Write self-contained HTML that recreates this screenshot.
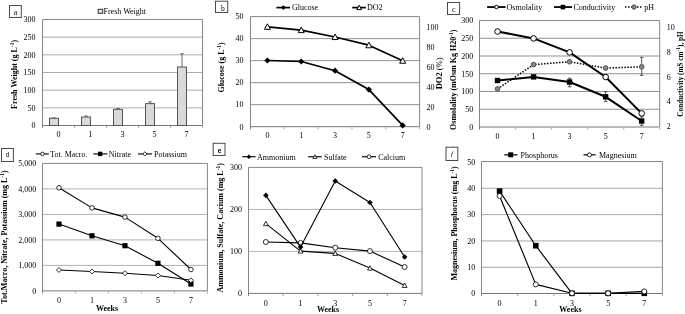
<!DOCTYPE html><html><head><meta charset="utf-8"><style>html,body{margin:0;padding:0;background:#fff;}svg{display:block;will-change:transform;}text{font-family:"Liberation Serif",serif;fill:#000;}</style></head><body>
<svg width="685" height="314" viewBox="0 0 685 314">
<rect width="685" height="314" fill="#fff"/>
<line x1="42.5" y1="107.83" x2="202.5" y2="107.83" stroke="#acacac" stroke-width="1" />
<line x1="42.5" y1="90.17" x2="202.5" y2="90.17" stroke="#acacac" stroke-width="1" />
<line x1="42.5" y1="72.5" x2="202.5" y2="72.5" stroke="#acacac" stroke-width="1" />
<line x1="42.5" y1="54.83" x2="202.5" y2="54.83" stroke="#acacac" stroke-width="1" />
<line x1="42.5" y1="37.17" x2="202.5" y2="37.17" stroke="#acacac" stroke-width="1" />
<line x1="42.5" y1="19.5" x2="202.5" y2="19.5" stroke="#868686" stroke-width="1" />
<line x1="202.5" y1="19.5" x2="202.5" y2="125.5" stroke="#868686" stroke-width="1" />
<line x1="42.5" y1="19.5" x2="42.5" y2="128.1" stroke="#868686" stroke-width="1" />
<line x1="42.5" y1="125.5" x2="202.5" y2="125.5" stroke="#787878" stroke-width="1" />
<line x1="74.5" y1="126" x2="74.5" y2="128.1" stroke="#b0b0b0" stroke-width="1.2" />
<line x1="106.5" y1="126" x2="106.5" y2="128.1" stroke="#b0b0b0" stroke-width="1.2" />
<line x1="138.5" y1="126" x2="138.5" y2="128.1" stroke="#b0b0b0" stroke-width="1.2" />
<line x1="170.5" y1="126" x2="170.5" y2="128.1" stroke="#b0b0b0" stroke-width="1.2" />
<line x1="202.5" y1="126" x2="202.5" y2="128.1" stroke="#b0b0b0" stroke-width="1.2" />
<text x="35.6" y="128.3" text-anchor="end" font-size="8" font-weight="normal" >0</text>
<text x="35.6" y="110.63" text-anchor="end" font-size="8" font-weight="normal" >50</text>
<text x="35.6" y="92.97" text-anchor="end" font-size="8" font-weight="normal" >100</text>
<text x="35.6" y="75.3" text-anchor="end" font-size="8" font-weight="normal" >150</text>
<text x="35.6" y="57.63" text-anchor="end" font-size="8" font-weight="normal" >200</text>
<text x="35.6" y="39.97" text-anchor="end" font-size="8" font-weight="normal" >250</text>
<text x="35.6" y="22.3" text-anchor="end" font-size="8" font-weight="normal" >300</text>
<text x="58.5" y="137.1" text-anchor="middle" font-size="8" font-weight="normal" >0</text>
<text x="90.5" y="137.1" text-anchor="middle" font-size="8" font-weight="normal" >1</text>
<text x="122.5" y="137.1" text-anchor="middle" font-size="8" font-weight="normal" >3</text>
<text x="154.5" y="137.1" text-anchor="middle" font-size="8" font-weight="normal" >5</text>
<text x="186.5" y="137.1" text-anchor="middle" font-size="8" font-weight="normal" >7</text>
<rect x="49.5" y="118.26" width="9" height="7.24" fill="#d9d9d9" stroke="#555" stroke-width="1"/>
<line x1="54" y1="117.9" x2="54" y2="118.26" stroke="#5a5a5a" stroke-width="0.9" />
<line x1="52.2" y1="117.9" x2="55.8" y2="117.9" stroke="#5a5a5a" stroke-width="0.9" />
<rect x="81.5" y="117.02" width="9" height="8.48" fill="#d9d9d9" stroke="#555" stroke-width="1"/>
<line x1="86" y1="115.96" x2="86" y2="117.02" stroke="#5a5a5a" stroke-width="0.9" />
<line x1="84.2" y1="115.96" x2="87.8" y2="115.96" stroke="#5a5a5a" stroke-width="0.9" />
<rect x="113.5" y="109.39" width="9" height="16.11" fill="#d9d9d9" stroke="#555" stroke-width="1"/>
<line x1="118" y1="108.54" x2="118" y2="109.39" stroke="#5a5a5a" stroke-width="0.9" />
<line x1="116.2" y1="108.54" x2="119.8" y2="108.54" stroke="#5a5a5a" stroke-width="0.9" />
<rect x="145.5" y="103.59" width="9" height="21.91" fill="#d9d9d9" stroke="#555" stroke-width="1"/>
<line x1="150" y1="101.83" x2="150" y2="103.59" stroke="#5a5a5a" stroke-width="0.9" />
<line x1="148.2" y1="101.83" x2="151.8" y2="101.83" stroke="#5a5a5a" stroke-width="0.9" />
<rect x="177.5" y="66.99" width="9" height="58.51" fill="#d9d9d9" stroke="#555" stroke-width="1"/>
<line x1="182" y1="53.77" x2="182" y2="66.99" stroke="#5a5a5a" stroke-width="0.9" />
<line x1="180.2" y1="53.77" x2="183.8" y2="53.77" stroke="#5a5a5a" stroke-width="0.9" />
<rect x="9.5" y="5.5" width="11.8" height="12" fill="#fff" stroke="#4a4a4a" stroke-width="1"/>
<text x="15.6" y="14.9" text-anchor="middle" font-size="8" font-weight="normal" >a</text>
<rect x="98.2" y="9.3" width="4.5" height="4" fill="#e6e6e6" stroke="#333" stroke-width="1"/>
<text x="103.5" y="13.6" text-anchor="start" font-size="8" font-weight="normal" >Fresh Weight</text>
<text transform="translate(16.9,74.4) rotate(-90)" text-anchor="middle" font-size="8" font-weight="bold">Fresh Weight (g L<tspan dy="-3" font-size="5.5">-1</tspan><tspan dy="3">)</tspan></text>
<line x1="250.5" y1="104.68" x2="419.6" y2="104.68" stroke="#929292" stroke-width="1" />
<line x1="250.5" y1="82.66" x2="419.6" y2="82.66" stroke="#929292" stroke-width="1" />
<line x1="250.5" y1="60.64" x2="419.6" y2="60.64" stroke="#929292" stroke-width="1" />
<line x1="250.5" y1="38.62" x2="419.6" y2="38.62" stroke="#929292" stroke-width="1" />
<line x1="250.5" y1="16.6" x2="419.6" y2="16.6" stroke="#868686" stroke-width="1" />
<line x1="419.6" y1="16.6" x2="419.6" y2="126.7" stroke="#868686" stroke-width="1" />
<line x1="250.5" y1="16.6" x2="250.5" y2="129.3" stroke="#868686" stroke-width="1" />
<line x1="250.5" y1="126.7" x2="419.6" y2="126.7" stroke="#787878" stroke-width="1" />
<line x1="284.32" y1="127.2" x2="284.32" y2="129.3" stroke="#b0b0b0" stroke-width="1.2" />
<line x1="318.14" y1="127.2" x2="318.14" y2="129.3" stroke="#b0b0b0" stroke-width="1.2" />
<line x1="351.96" y1="127.2" x2="351.96" y2="129.3" stroke="#b0b0b0" stroke-width="1.2" />
<line x1="385.78" y1="127.2" x2="385.78" y2="129.3" stroke="#b0b0b0" stroke-width="1.2" />
<line x1="419.6" y1="127.2" x2="419.6" y2="129.3" stroke="#b0b0b0" stroke-width="1.2" />
<text x="243.6" y="129.5" text-anchor="end" font-size="8" font-weight="normal" >0</text>
<text x="243.6" y="107.48" text-anchor="end" font-size="8" font-weight="normal" >10</text>
<text x="243.6" y="85.46" text-anchor="end" font-size="8" font-weight="normal" >20</text>
<text x="243.6" y="63.44" text-anchor="end" font-size="8" font-weight="normal" >30</text>
<text x="243.6" y="41.42" text-anchor="end" font-size="8" font-weight="normal" >40</text>
<text x="243.6" y="19.4" text-anchor="end" font-size="8" font-weight="normal" >50</text>
<text x="267.41" y="138.4" text-anchor="middle" font-size="8" font-weight="normal" >0</text>
<text x="301.23" y="138.4" text-anchor="middle" font-size="8" font-weight="normal" >1</text>
<text x="335.05" y="138.4" text-anchor="middle" font-size="8" font-weight="normal" >3</text>
<text x="368.87" y="138.4" text-anchor="middle" font-size="8" font-weight="normal" >5</text>
<text x="402.69" y="138.4" text-anchor="middle" font-size="8" font-weight="normal" >7</text>
<text x="426.5" y="129.5" text-anchor="start" font-size="8" font-weight="normal" >0</text>
<text x="426.5" y="109.5" text-anchor="start" font-size="8" font-weight="normal" >20</text>
<text x="426.5" y="89.5" text-anchor="start" font-size="8" font-weight="normal" >40</text>
<text x="426.5" y="69.5" text-anchor="start" font-size="8" font-weight="normal" >60</text>
<text x="426.5" y="49.5" text-anchor="start" font-size="8" font-weight="normal" >80</text>
<text x="426.5" y="29.5" text-anchor="start" font-size="8" font-weight="normal" >100</text>
<path d="M267.41 26.8L301.23 30.1L335.05 37L368.87 45.2L402.69 60.7" fill="none" stroke="#000" stroke-width="1.7" stroke-linejoin="round"/>
<path d="M267.41 23.8L270.41 29.35L264.41 29.35Z" fill="#fff" stroke="#000" stroke-width="1"/>
<path d="M301.23 27.1L304.23 32.65L298.23 32.65Z" fill="#fff" stroke="#000" stroke-width="1"/>
<path d="M335.05 34L338.05 39.55L332.05 39.55Z" fill="#fff" stroke="#000" stroke-width="1"/>
<path d="M368.87 42.2L371.87 47.75L365.87 47.75Z" fill="#fff" stroke="#000" stroke-width="1"/>
<path d="M402.69 57.7L405.69 63.25L399.69 63.25Z" fill="#fff" stroke="#000" stroke-width="1"/>
<path d="M267.41 60.5L301.23 61.5L335.05 70.7L368.87 89.6L402.69 125.4" fill="none" stroke="#000" stroke-width="1.7" stroke-linejoin="round"/>
<path d="M267.41 57.4L270.51 60.5L267.41 63.6L264.31 60.5Z" fill="#000"/>
<path d="M301.23 58.4L304.33 61.5L301.23 64.6L298.13 61.5Z" fill="#000"/>
<path d="M335.05 67.6L338.15 70.7L335.05 73.8L331.95 70.7Z" fill="#000"/>
<path d="M368.87 86.5L371.97 89.6L368.87 92.7L365.77 89.6Z" fill="#000"/>
<path d="M402.69 122.3L405.79 125.4L402.69 128.5L399.59 125.4Z" fill="#000"/>
<rect x="215.5" y="1.2" width="12.2" height="11.3" fill="#fff" stroke="#4a4a4a" stroke-width="1"/>
<text x="222.9" y="10.9" text-anchor="middle" font-size="7.5" font-weight="normal" >b</text>
<line x1="276.4" y1="7.6" x2="290" y2="7.6" stroke="#000" stroke-width="1.7"/>
<path d="M283.4 5.2L285.8 7.6L283.4 10L281 7.6Z" fill="#000"/>
<text x="291.9" y="10.1" text-anchor="start" font-size="8" font-weight="normal" >Glucose</text>
<line x1="352.2" y1="7.6" x2="365.8" y2="7.6" stroke="#000" stroke-width="1.7"/>
<path d="M359.2 5.2L361.6 9.64L356.8 9.64Z" fill="#fff" stroke="#000" stroke-width="1"/>
<text x="367" y="10.1" text-anchor="start" font-size="8" font-weight="normal" >DO2</text>
<text transform="translate(223.7,67.4) rotate(-90)" text-anchor="middle" font-size="8" font-weight="bold">Glucose (g L<tspan dy="-3" font-size="5.5">-1</tspan><tspan dy="3">)</tspan></text>
<text transform="translate(442.2,73.4) rotate(-90)" text-anchor="middle" font-size="8.5"><tspan font-weight="bold">DO2</tspan> (%)</text>
<line x1="479.5" y1="109.25" x2="659.7" y2="109.25" stroke="#929292" stroke-width="1" />
<line x1="479.5" y1="91.5" x2="659.7" y2="91.5" stroke="#929292" stroke-width="1" />
<line x1="479.5" y1="73.75" x2="659.7" y2="73.75" stroke="#929292" stroke-width="1" />
<line x1="479.5" y1="56" x2="659.7" y2="56" stroke="#929292" stroke-width="1" />
<line x1="479.5" y1="38.25" x2="659.7" y2="38.25" stroke="#929292" stroke-width="1" />
<line x1="479.5" y1="20.5" x2="659.7" y2="20.5" stroke="#868686" stroke-width="1" />
<line x1="659.7" y1="20.5" x2="659.7" y2="127" stroke="#868686" stroke-width="1" />
<line x1="479.5" y1="20.5" x2="479.5" y2="129.6" stroke="#868686" stroke-width="1" />
<line x1="479.5" y1="127" x2="659.7" y2="127" stroke="#787878" stroke-width="1" />
<line x1="515.54" y1="127.5" x2="515.54" y2="129.6" stroke="#b0b0b0" stroke-width="1.2" />
<line x1="551.58" y1="127.5" x2="551.58" y2="129.6" stroke="#b0b0b0" stroke-width="1.2" />
<line x1="587.62" y1="127.5" x2="587.62" y2="129.6" stroke="#b0b0b0" stroke-width="1.2" />
<line x1="623.66" y1="127.5" x2="623.66" y2="129.6" stroke="#b0b0b0" stroke-width="1.2" />
<line x1="659.7" y1="127.5" x2="659.7" y2="129.6" stroke="#b0b0b0" stroke-width="1.2" />
<text x="473.2" y="129.8" text-anchor="end" font-size="8" font-weight="normal" >0</text>
<text x="473.2" y="112.05" text-anchor="end" font-size="8" font-weight="normal" >50</text>
<text x="473.2" y="94.3" text-anchor="end" font-size="8" font-weight="normal" >100</text>
<text x="473.2" y="76.55" text-anchor="end" font-size="8" font-weight="normal" >150</text>
<text x="473.2" y="58.8" text-anchor="end" font-size="8" font-weight="normal" >200</text>
<text x="473.2" y="41.05" text-anchor="end" font-size="8" font-weight="normal" >250</text>
<text x="473.2" y="23.3" text-anchor="end" font-size="8" font-weight="normal" >300</text>
<text x="497.52" y="138.6" text-anchor="middle" font-size="8" font-weight="normal" >0</text>
<text x="533.56" y="138.6" text-anchor="middle" font-size="8" font-weight="normal" >1</text>
<text x="569.6" y="138.6" text-anchor="middle" font-size="8" font-weight="normal" >3</text>
<text x="605.64" y="138.6" text-anchor="middle" font-size="8" font-weight="normal" >5</text>
<text x="641.68" y="138.6" text-anchor="middle" font-size="8" font-weight="normal" >7</text>
<text x="666.8" y="129.4" text-anchor="start" font-size="8" font-weight="normal" >2</text>
<text x="666.8" y="104.3" text-anchor="start" font-size="8" font-weight="normal" >4</text>
<text x="666.8" y="79.8" text-anchor="start" font-size="8" font-weight="normal" >6</text>
<text x="666.8" y="55.2" text-anchor="start" font-size="8" font-weight="normal" >8</text>
<text x="666.8" y="30" text-anchor="start" font-size="8" font-weight="normal" >10</text>
<line x1="569.6" y1="78.2" x2="569.6" y2="86.8" stroke="#444" stroke-width="0.9" />
<line x1="567.8" y1="78.2" x2="571.4" y2="78.2" stroke="#444" stroke-width="0.9" />
<line x1="567.8" y1="86.8" x2="571.4" y2="86.8" stroke="#444" stroke-width="0.9" />
<line x1="605.64" y1="91.7" x2="605.64" y2="101.6" stroke="#444" stroke-width="0.9" />
<line x1="603.84" y1="91.7" x2="607.44" y2="91.7" stroke="#444" stroke-width="0.9" />
<line x1="603.84" y1="101.6" x2="607.44" y2="101.6" stroke="#444" stroke-width="0.9" />
<line x1="641.68" y1="116.7" x2="641.68" y2="125.4" stroke="#444" stroke-width="0.9" />
<line x1="639.88" y1="116.7" x2="643.48" y2="116.7" stroke="#444" stroke-width="0.9" />
<line x1="639.88" y1="125.4" x2="643.48" y2="125.4" stroke="#444" stroke-width="0.9" />
<line x1="641.68" y1="57.4" x2="641.68" y2="75.3" stroke="#444" stroke-width="0.9" />
<line x1="639.88" y1="57.4" x2="643.48" y2="57.4" stroke="#444" stroke-width="0.9" />
<line x1="639.88" y1="75.3" x2="643.48" y2="75.3" stroke="#444" stroke-width="0.9" />
<line x1="497.52" y1="78.8" x2="497.52" y2="82.2" stroke="#444" stroke-width="0.9" />
<line x1="495.72" y1="78.8" x2="499.32" y2="78.8" stroke="#444" stroke-width="0.9" />
<line x1="495.72" y1="82.2" x2="499.32" y2="82.2" stroke="#444" stroke-width="0.9" />
<line x1="533.56" y1="75.3" x2="533.56" y2="78.5" stroke="#444" stroke-width="0.9" />
<line x1="531.76" y1="75.3" x2="535.36" y2="75.3" stroke="#444" stroke-width="0.9" />
<line x1="531.76" y1="78.5" x2="535.36" y2="78.5" stroke="#444" stroke-width="0.9" />
<path d="M497.52 88.9L533.56 64.6L569.6 61.8L605.64 68.1L641.68 66.8" fill="none" stroke="#000" stroke-width="1.5" stroke-linejoin="round" stroke-dasharray="1.5 1.5"/>
<circle cx="497.52" cy="88.9" r="2.3" fill="#888" stroke="#505050" stroke-width="1"/>
<circle cx="533.56" cy="64.6" r="2.3" fill="#888" stroke="#505050" stroke-width="1"/>
<circle cx="569.6" cy="61.8" r="2.3" fill="#888" stroke="#505050" stroke-width="1"/>
<circle cx="605.64" cy="68.1" r="2.3" fill="#888" stroke="#505050" stroke-width="1"/>
<circle cx="641.68" cy="66.8" r="2.3" fill="#888" stroke="#505050" stroke-width="1"/>
<path d="M497.52 31.5L533.56 38.4L569.6 52.4L605.64 77L641.68 113.4" fill="none" stroke="#000" stroke-width="2" stroke-linejoin="round"/>
<circle cx="497.52" cy="31.5" r="2.8" fill="#fff" stroke="#000" stroke-width="1"/>
<circle cx="533.56" cy="38.4" r="2.8" fill="#fff" stroke="#000" stroke-width="1"/>
<circle cx="569.6" cy="52.4" r="2.8" fill="#fff" stroke="#000" stroke-width="1"/>
<circle cx="605.64" cy="77" r="2.8" fill="#fff" stroke="#000" stroke-width="1"/>
<circle cx="641.68" cy="113.4" r="2.8" fill="#fff" stroke="#000" stroke-width="1"/>
<path d="M497.52 80.5L533.56 76.9L569.6 82L605.64 96.8L641.68 121" fill="none" stroke="#000" stroke-width="2" stroke-linejoin="round"/>
<rect x="494.82" y="77.8" width="5.4" height="5.4" fill="#000"/>
<rect x="530.86" y="74.2" width="5.4" height="5.4" fill="#000"/>
<rect x="566.9" y="79.3" width="5.4" height="5.4" fill="#000"/>
<rect x="602.94" y="94.1" width="5.4" height="5.4" fill="#000"/>
<rect x="638.98" y="118.3" width="5.4" height="5.4" fill="#000"/>
<rect x="447.5" y="2.5" width="12.1" height="12" fill="#fff" stroke="#4a4a4a" stroke-width="1"/>
<text x="453.8" y="11.9" text-anchor="middle" font-size="8" font-weight="normal" >c</text>
<line x1="487.1" y1="7.05" x2="505.5" y2="7.05" stroke="#000" stroke-width="1.8"/>
<circle cx="496.5" cy="7.05" r="1.8" fill="#fff" stroke="#000" stroke-width="1"/>
<text x="506.6" y="9.8" text-anchor="start" font-size="8" font-weight="normal" >Osmolality</text>
<line x1="554" y1="7.05" x2="572" y2="7.05" stroke="#000" stroke-width="1.8"/>
<rect x="560.6" y="4.75" width="4.6" height="4.6" fill="#000"/>
<text x="573.4" y="9.8" text-anchor="start" font-size="8" font-weight="normal" >Conductivity</text>
<line x1="625" y1="7.05" x2="643" y2="7.05" stroke="#000" stroke-width="1.5" stroke-dasharray="1.5 1.5"/>
<circle cx="634" cy="7.05" r="2.2" fill="#888" stroke="#505050" stroke-width="1"/>
<text x="644.3" y="9.8" text-anchor="start" font-size="8" font-weight="normal" >pH</text>
<text transform="translate(456.2,79.7) rotate(-90)" text-anchor="middle" font-size="8" font-weight="bold">Osmolality (mOsm Kg H20<tspan dy="-3" font-size="5.5">-1</tspan><tspan dy="3">)</tspan></text>
<text transform="translate(683.4,74.0) rotate(-90)" text-anchor="middle" font-size="7.2" font-weight="bold">Conductivity (mS cm<tspan dy="-3" font-size="5.5">-1</tspan><tspan dy="3">), pH</tspan></text>
<line x1="42.5" y1="265.4" x2="207.4" y2="265.4" stroke="#b2b2b2" stroke-width="1" />
<line x1="42.5" y1="239.9" x2="207.4" y2="239.9" stroke="#b2b2b2" stroke-width="1" />
<line x1="42.5" y1="214.4" x2="207.4" y2="214.4" stroke="#b2b2b2" stroke-width="1" />
<line x1="42.5" y1="188.9" x2="207.4" y2="188.9" stroke="#b2b2b2" stroke-width="1" />
<line x1="42.5" y1="163.4" x2="207.4" y2="163.4" stroke="#868686" stroke-width="1" />
<line x1="207.4" y1="163.4" x2="207.4" y2="290.9" stroke="#868686" stroke-width="1" />
<line x1="42.5" y1="163.4" x2="42.5" y2="293.5" stroke="#868686" stroke-width="1" />
<line x1="42.5" y1="290.9" x2="207.4" y2="290.9" stroke="#787878" stroke-width="1" />
<line x1="75.48" y1="291.4" x2="75.48" y2="293.5" stroke="#b0b0b0" stroke-width="1.2" />
<line x1="108.46" y1="291.4" x2="108.46" y2="293.5" stroke="#b0b0b0" stroke-width="1.2" />
<line x1="141.44" y1="291.4" x2="141.44" y2="293.5" stroke="#b0b0b0" stroke-width="1.2" />
<line x1="174.42" y1="291.4" x2="174.42" y2="293.5" stroke="#b0b0b0" stroke-width="1.2" />
<line x1="207.4" y1="291.4" x2="207.4" y2="293.5" stroke="#b0b0b0" stroke-width="1.2" />
<text x="36.2" y="293.7" text-anchor="end" font-size="8" font-weight="normal" >0</text>
<text x="36.2" y="268.2" text-anchor="end" font-size="8" font-weight="normal" >1,000</text>
<text x="36.2" y="242.7" text-anchor="end" font-size="8" font-weight="normal" >2,000</text>
<text x="36.2" y="217.2" text-anchor="end" font-size="8" font-weight="normal" >3,000</text>
<text x="36.2" y="191.7" text-anchor="end" font-size="8" font-weight="normal" >4,000</text>
<text x="36.2" y="166.2" text-anchor="end" font-size="8" font-weight="normal" >5,000</text>
<text x="58.99" y="302.6" text-anchor="middle" font-size="8" font-weight="normal" >0</text>
<text x="91.97" y="302.6" text-anchor="middle" font-size="8" font-weight="normal" >1</text>
<text x="124.95" y="302.6" text-anchor="middle" font-size="8" font-weight="normal" >3</text>
<text x="157.93" y="302.6" text-anchor="middle" font-size="8" font-weight="normal" >5</text>
<text x="190.91" y="302.6" text-anchor="middle" font-size="8" font-weight="normal" >7</text>
<path d="M58.99 187.8L91.97 207.9L124.95 217.1L157.93 238.3L190.91 269.5" fill="none" stroke="#000" stroke-width="1.1" stroke-linejoin="round"/>
<circle cx="58.99" cy="187.8" r="2.3" fill="#fff" stroke="#000" stroke-width="0.8"/>
<circle cx="91.97" cy="207.9" r="2.3" fill="#fff" stroke="#000" stroke-width="0.8"/>
<circle cx="124.95" cy="217.1" r="2.3" fill="#fff" stroke="#000" stroke-width="0.8"/>
<circle cx="157.93" cy="238.3" r="2.3" fill="#fff" stroke="#000" stroke-width="0.8"/>
<circle cx="190.91" cy="269.5" r="2.3" fill="#fff" stroke="#000" stroke-width="0.8"/>
<path d="M58.99 224.1L91.97 235.8L124.95 245.7L157.93 263.3L190.91 284" fill="none" stroke="#000" stroke-width="1.1" stroke-linejoin="round"/>
<rect x="56.39" y="221.5" width="5.2" height="5.2" fill="#000"/>
<rect x="89.37" y="233.2" width="5.2" height="5.2" fill="#000"/>
<rect x="122.35" y="243.1" width="5.2" height="5.2" fill="#000"/>
<rect x="155.33" y="260.7" width="5.2" height="5.2" fill="#000"/>
<rect x="188.31" y="281.4" width="5.2" height="5.2" fill="#000"/>
<path d="M58.99 270L91.97 271.5L124.95 273.2L157.93 275.5L190.91 280.3" fill="none" stroke="#000" stroke-width="1.1" stroke-linejoin="round"/>
<path d="M58.99 267.5L61.49 270L58.99 272.5L56.49 270Z" fill="#fff" stroke="#000" stroke-width="0.8"/>
<path d="M91.97 269L94.47 271.5L91.97 274L89.47 271.5Z" fill="#fff" stroke="#000" stroke-width="0.8"/>
<path d="M124.95 270.7L127.45 273.2L124.95 275.7L122.45 273.2Z" fill="#fff" stroke="#000" stroke-width="0.8"/>
<path d="M157.93 273L160.43 275.5L157.93 278L155.43 275.5Z" fill="#fff" stroke="#000" stroke-width="0.8"/>
<path d="M190.91 277.8L193.41 280.3L190.91 282.8L188.41 280.3Z" fill="#fff" stroke="#000" stroke-width="0.8"/>
<rect x="1.5" y="148.5" width="11.9" height="13" fill="#fff" stroke="#4a4a4a" stroke-width="1"/>
<text x="7.6" y="157.4" text-anchor="middle" font-size="6.5" font-weight="normal" style="font-family:'Liberation Sans',sans-serif">d</text>
<line x1="35.9" y1="153.9" x2="48.9" y2="153.9" stroke="#333" stroke-width="1.4"/>
<circle cx="42.5" cy="153.9" r="1.8" fill="#fff" stroke="#000" stroke-width="0.8"/>
<text x="50.1" y="156.5" text-anchor="start" font-size="8" font-weight="normal" >Tot. Macro.</text>
<line x1="93.3" y1="153.9" x2="107.4" y2="153.9" stroke="#333" stroke-width="1.4"/>
<rect x="98" y="151.7" width="4.4" height="4.4" fill="#000"/>
<text x="108.8" y="156.5" text-anchor="start" font-size="8" font-weight="normal" >Nitrate</text>
<line x1="138" y1="153.9" x2="152.1" y2="153.9" stroke="#333" stroke-width="1.4"/>
<path d="M144.8 151.8L146.9 153.9L144.8 156L142.7 153.9Z" fill="#fff" stroke="#000" stroke-width="0.8"/>
<text x="154" y="156.5" text-anchor="start" font-size="8" font-weight="normal" >Potassium</text>
<text transform="translate(6.9,237) rotate(-90)" text-anchor="middle" font-size="8" font-weight="bold">Tot.Macro, Nitrate, Potassium (mg L<tspan dy="-3" font-size="5.5">-1</tspan><tspan dy="3">)</tspan></text>
<text x="107" y="310.8" text-anchor="middle" font-size="8" font-weight="bold" >Weeks</text>
<line x1="248.5" y1="251.4" x2="422" y2="251.4" stroke="#b2b2b2" stroke-width="1" />
<line x1="248.5" y1="209.4" x2="422" y2="209.4" stroke="#b2b2b2" stroke-width="1" />
<line x1="248.5" y1="167.4" x2="422" y2="167.4" stroke="#868686" stroke-width="1" />
<line x1="422" y1="167.4" x2="422" y2="293.4" stroke="#868686" stroke-width="1" />
<line x1="248.5" y1="167.4" x2="248.5" y2="296" stroke="#868686" stroke-width="1" />
<line x1="248.5" y1="293.4" x2="422" y2="293.4" stroke="#787878" stroke-width="1" />
<line x1="283.2" y1="293.9" x2="283.2" y2="296" stroke="#b0b0b0" stroke-width="1.2" />
<line x1="317.9" y1="293.9" x2="317.9" y2="296" stroke="#b0b0b0" stroke-width="1.2" />
<line x1="352.6" y1="293.9" x2="352.6" y2="296" stroke="#b0b0b0" stroke-width="1.2" />
<line x1="387.3" y1="293.9" x2="387.3" y2="296" stroke="#b0b0b0" stroke-width="1.2" />
<line x1="422" y1="293.9" x2="422" y2="296" stroke="#b0b0b0" stroke-width="1.2" />
<text x="242" y="296.2" text-anchor="end" font-size="8" font-weight="normal" >0</text>
<text x="242" y="254.2" text-anchor="end" font-size="8" font-weight="normal" >100</text>
<text x="242" y="212.2" text-anchor="end" font-size="8" font-weight="normal" >200</text>
<text x="242" y="170.2" text-anchor="end" font-size="8" font-weight="normal" >300</text>
<text x="265.85" y="305.5" text-anchor="middle" font-size="8" font-weight="normal" >0</text>
<text x="300.55" y="305.5" text-anchor="middle" font-size="8" font-weight="normal" >1</text>
<text x="335.25" y="305.5" text-anchor="middle" font-size="8" font-weight="normal" >3</text>
<text x="369.95" y="305.5" text-anchor="middle" font-size="8" font-weight="normal" >5</text>
<text x="404.65" y="305.5" text-anchor="middle" font-size="8" font-weight="normal" >7</text>
<path d="M265.85 242L300.55 242.9L335.25 247.7L369.95 251.1L404.65 267" fill="none" stroke="#000" stroke-width="1.1" stroke-linejoin="round"/>
<circle cx="265.85" cy="242" r="2.5" fill="#fff" stroke="#000" stroke-width="0.8"/>
<circle cx="300.55" cy="242.9" r="2.5" fill="#fff" stroke="#000" stroke-width="0.8"/>
<circle cx="335.25" cy="247.7" r="2.5" fill="#fff" stroke="#000" stroke-width="0.8"/>
<circle cx="369.95" cy="251.1" r="2.5" fill="#fff" stroke="#000" stroke-width="0.8"/>
<circle cx="404.65" cy="267" r="2.5" fill="#fff" stroke="#000" stroke-width="0.8"/>
<path d="M265.85 223.6L300.55 251.1L335.25 253.4L369.95 268.1L404.65 285.4" fill="none" stroke="#000" stroke-width="1.1" stroke-linejoin="round"/>
<path d="M265.85 221.2L268.25 225.64L263.45 225.64Z" fill="#fff" stroke="#000" stroke-width="0.8"/>
<path d="M300.55 248.7L302.95 253.14L298.15 253.14Z" fill="#fff" stroke="#000" stroke-width="0.8"/>
<path d="M335.25 251L337.65 255.44L332.85 255.44Z" fill="#fff" stroke="#000" stroke-width="0.8"/>
<path d="M369.95 265.7L372.35 270.14L367.55 270.14Z" fill="#fff" stroke="#000" stroke-width="0.8"/>
<path d="M404.65 283L407.05 287.44L402.25 287.44Z" fill="#fff" stroke="#000" stroke-width="0.8"/>
<path d="M265.85 195.4L300.55 247.1L335.25 181L369.95 202.5L404.65 257" fill="none" stroke="#000" stroke-width="1.1" stroke-linejoin="round"/>
<path d="M265.85 192.6L268.65 195.4L265.85 198.2L263.05 195.4Z" fill="#000"/>
<path d="M300.55 244.3L303.35 247.1L300.55 249.9L297.75 247.1Z" fill="#000"/>
<path d="M335.25 178.2L338.05 181L335.25 183.8L332.45 181Z" fill="#000"/>
<path d="M369.95 199.7L372.75 202.5L369.95 205.3L367.15 202.5Z" fill="#000"/>
<path d="M404.65 254.2L407.45 257L404.65 259.8L401.85 257Z" fill="#000"/>
<rect x="213.2" y="143.3" width="11.8" height="12.2" fill="#fff" stroke="#4a4a4a" stroke-width="1"/>
<text x="219.7" y="152.5" text-anchor="middle" font-size="6.6" font-weight="bold" style="font-family:'Liberation Sans',sans-serif">e</text>
<line x1="242.2" y1="156.7" x2="255.6" y2="156.7" stroke="#222" stroke-width="1.3"/>
<path d="M248.9 154.4L251.2 156.7L248.9 159L246.6 156.7Z" fill="#000"/>
<text x="257" y="159.6" text-anchor="start" font-size="8" font-weight="normal" >Ammonium</text>
<line x1="308.2" y1="156.7" x2="321.8" y2="156.7" stroke="#222" stroke-width="1.3"/>
<path d="M314.9 154.7L316.9 158.4L312.9 158.4Z" fill="#fff" stroke="#000" stroke-width="0.8"/>
<text x="324" y="159.6" text-anchor="start" font-size="8" font-weight="normal" >Sulfate</text>
<line x1="362" y1="156.7" x2="376" y2="156.7" stroke="#222" stroke-width="1.3"/>
<circle cx="369" cy="156.7" r="1.9" fill="#fff" stroke="#000" stroke-width="0.8"/>
<text x="378.2" y="159.6" text-anchor="start" font-size="8" font-weight="normal" >Calcium</text>
<text transform="translate(222.8,227.8) rotate(-90)" text-anchor="middle" font-size="8" font-weight="bold">Ammonium, Sulfate, Cacium (mg L<tspan dy="-3" font-size="5.5">-1</tspan><tspan dy="3">)</tspan></text>
<text x="328" y="311.8" text-anchor="middle" font-size="8" font-weight="bold" >Weeks</text>
<line x1="481.5" y1="267.27" x2="662.4" y2="267.27" stroke="#a8a8a8" stroke-width="1" />
<line x1="481.5" y1="240.94" x2="662.4" y2="240.94" stroke="#a8a8a8" stroke-width="1" />
<line x1="481.5" y1="214.61" x2="662.4" y2="214.61" stroke="#a8a8a8" stroke-width="1" />
<line x1="481.5" y1="188.28" x2="662.4" y2="188.28" stroke="#a8a8a8" stroke-width="1" />
<line x1="481.5" y1="161.5" x2="662.4" y2="161.5" stroke="#868686" stroke-width="1" />
<line x1="662.4" y1="161.5" x2="662.4" y2="293.5" stroke="#868686" stroke-width="1" />
<line x1="481.5" y1="161.5" x2="481.5" y2="296.1" stroke="#868686" stroke-width="1" />
<line x1="481.5" y1="293.5" x2="662.4" y2="293.5" stroke="#787878" stroke-width="1" />
<line x1="517.68" y1="294" x2="517.68" y2="296.1" stroke="#b0b0b0" stroke-width="1.2" />
<line x1="553.86" y1="294" x2="553.86" y2="296.1" stroke="#b0b0b0" stroke-width="1.2" />
<line x1="590.04" y1="294" x2="590.04" y2="296.1" stroke="#b0b0b0" stroke-width="1.2" />
<line x1="626.22" y1="294" x2="626.22" y2="296.1" stroke="#b0b0b0" stroke-width="1.2" />
<line x1="662.4" y1="294" x2="662.4" y2="296.1" stroke="#b0b0b0" stroke-width="1.2" />
<text x="475.2" y="296.4" text-anchor="end" font-size="8" font-weight="normal" >0</text>
<text x="475.2" y="270.07" text-anchor="end" font-size="8" font-weight="normal" >10</text>
<text x="475.2" y="243.74" text-anchor="end" font-size="8" font-weight="normal" >20</text>
<text x="475.2" y="217.41" text-anchor="end" font-size="8" font-weight="normal" >30</text>
<text x="475.2" y="191.08" text-anchor="end" font-size="8" font-weight="normal" >40</text>
<text x="475.2" y="164.75" text-anchor="end" font-size="8" font-weight="normal" >50</text>
<text x="499.59" y="305.8" text-anchor="middle" font-size="8" font-weight="normal" >0</text>
<text x="535.77" y="305.8" text-anchor="middle" font-size="8" font-weight="normal" >1</text>
<text x="571.95" y="305.8" text-anchor="middle" font-size="8" font-weight="normal" >3</text>
<text x="608.13" y="305.8" text-anchor="middle" font-size="8" font-weight="normal" >5</text>
<text x="644.31" y="305.8" text-anchor="middle" font-size="8" font-weight="normal" >7</text>
<path d="M499.59 191.1L535.77 245.7L571.95 293.3L608.13 293.3L644.31 293.3" fill="none" stroke="#000" stroke-width="1.15" stroke-linejoin="round"/>
<rect x="496.79" y="188.3" width="5.6" height="5.6" fill="#000"/>
<rect x="532.97" y="242.9" width="5.6" height="5.6" fill="#000"/>
<rect x="569.15" y="290.5" width="5.6" height="5.6" fill="#000"/>
<rect x="605.33" y="290.5" width="5.6" height="5.6" fill="#000"/>
<rect x="641.51" y="290.5" width="5.6" height="5.6" fill="#000"/>
<path d="M499.59 196L535.77 284.4L571.95 293.3L608.13 293.3L644.31 291.4" fill="none" stroke="#000" stroke-width="1.15" stroke-linejoin="round"/>
<circle cx="499.59" cy="196" r="2.5" fill="#fff" stroke="#000" stroke-width="0.8"/>
<circle cx="535.77" cy="284.4" r="2.5" fill="#fff" stroke="#000" stroke-width="0.8"/>
<circle cx="571.95" cy="293.3" r="2.5" fill="#fff" stroke="#000" stroke-width="0.8"/>
<circle cx="608.13" cy="293.3" r="2.5" fill="#fff" stroke="#000" stroke-width="0.8"/>
<circle cx="644.31" cy="291.4" r="2.5" fill="#fff" stroke="#000" stroke-width="0.8"/>
<rect x="446" y="147.2" width="11.8" height="13.3" fill="#fff" stroke="#4a4a4a" stroke-width="1"/>
<text x="452" y="156.4" text-anchor="middle" font-size="7" font-weight="normal" font-style="italic">f</text>
<line x1="504.3" y1="154.8" x2="517.5" y2="154.8" stroke="#222" stroke-width="1.4"/>
<rect x="508.2" y="152.3" width="5" height="5" fill="#000"/>
<text x="520.6" y="157.6" text-anchor="start" font-size="8" font-weight="normal" >Phosphorus</text>
<line x1="583.5" y1="154.8" x2="595.6" y2="154.8" stroke="#222" stroke-width="1.4"/>
<circle cx="589.4" cy="154.8" r="2" fill="#fff" stroke="#000" stroke-width="0.8"/>
<text x="599" y="157.6" text-anchor="start" font-size="8" font-weight="normal" >Magnesium</text>
<text transform="translate(457,223.4) rotate(-90)" text-anchor="middle" font-size="8" font-weight="bold">Magnesium, Phosphorus (mg L<tspan dy="-3" font-size="5.5">-1</tspan><tspan dy="3">)</tspan></text>
<text x="570.4" y="312.4" text-anchor="middle" font-size="8" font-weight="bold" >Weeks</text>
</svg></body></html>
